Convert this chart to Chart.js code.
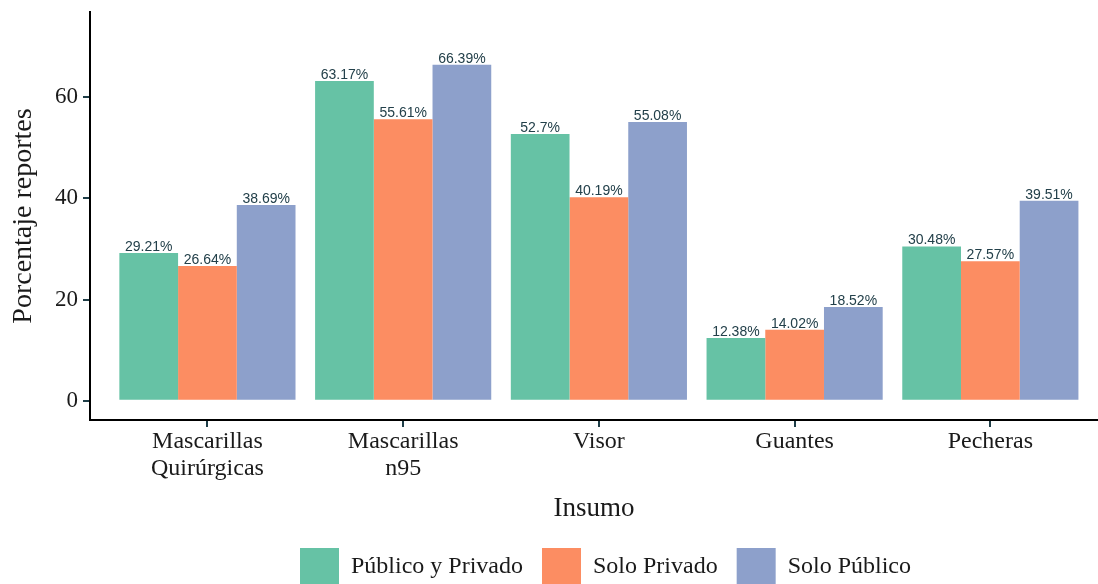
<!DOCTYPE html>
<html><head><meta charset="utf-8">
<script src="https://cdn.jsdelivr.net/npm/chart.js@4.4.1/dist/chart.umd.min.js"></script>
<style>html,body{margin:0;padding:0;background:#fff;overflow:hidden}#wrap{width:1098px;height:584px;position:relative}</style>
</head><body><div id="wrap"><canvas id="c" width="1098" height="584"></canvas></div>
<script>
const categories = [["Mascarillas","Quirúrgicas"],["Mascarillas","n95"],"Visor","Guantes","Pecheras"];
const seriesNames = ["Público y Privado","Solo Privado","Solo Público"];
const publicoYPrivado = [29.21, 63.17, 52.7, 12.38, 30.48];
const soloPrivado = [26.64, 55.61, 40.19, 14.02, 27.57];
const soloPublico = [38.69, 66.39, 55.08, 18.52, 39.51];
const yTicks = [0, 20, 40, 60];
const colors = ["#66C2A5", "#FC8D62", "#8DA0CB"];

const SERIF = "'Liberation Serif', 'Times New Roman', serif";
const TXT = "#1a1a1a";
const TICKC = "#1e3d47";
const LEG_PAD = 19;

const allSeries = [publicoYPrivado, soloPrivado, soloPublico];
const datasets = allSeries.map((vals, k) => ({
  label: seriesNames[k],
  data: vals.map((v, i) => ({x: i + 1, y: v})),
  backgroundColor: colors[k],
  borderWidth: 0,
  categoryPercentage: 0.9,
  barPercentage: 1.0
}));

const labelPlugin = {
  id: 'valLabels',
  afterDatasetsDraw(chart) {
    const ctx = chart.ctx;
    ctx.save();
    ctx.font = "14px 'Liberation Sans', Arial, sans-serif";
    ctx.fillStyle = "#23404a";
    ctx.textAlign = 'center';
    ctx.textBaseline = 'alphabetic';
    chart.data.datasets.forEach((ds, di) => {
      const meta = chart.getDatasetMeta(di);
      meta.data.forEach((el, i) => {
        ctx.fillText(String(ds.data[i].y) + '%', el.x, el.y - 2);
      });
    });
    ctx.restore();
  }
};

const legendPlace = {
  id: 'legendPlace',
  afterLayout(chart) {
    const L = chart.legend;
    if (!L || !L.lineWidths) return;
    const natural = (L.left + LEG_PAD + L.right - L.lineWidths[0]) / 2;
    const dx = 300 - natural;
    L.left += dx; L.right += dx;
    const newTop = 548 - LEG_PAD;
    L.bottom += newTop - L.top;
    L.top = newTop;
  }
};

new Chart(document.getElementById('c'), {
  type: 'bar',
  data: {datasets},
  options: {
    responsive: false,
    animation: false,
    devicePixelRatio: 1,
    layout: {padding: {top: 12, left: 0, right: 0, bottom: 0}},
    plugins: {
      tooltip: {enabled: false},
      legend: {
        position: 'bottom',
        labels: {
          boxWidth: 39, boxHeight: 38, padding: LEG_PAD,
          font: {family: SERIF, size: 24}, color: TXT
        }
      }
    },
    scales: {
      x: {
        type: 'linear', min: 0.4, max: 5.55, offset: false,
        afterBuildTicks: s => { s.ticks = categories.map((c, i) => ({value: i + 1})); },
        ticks: {
          callback: v => categories[v - 1],
          font: {family: SERIF, size: 24, lineHeight: 1.1}, color: TXT,
          padding: 2, maxRotation: 0, autoSkip: false
        },
        grid: {display: true, offset: false, drawOnChartArea: false, drawTicks: true, tickLength: 7, color: TICKC, lineWidth: 2},
        border: {display: true, color: '#000', width: 2},
        title: {display: true, text: 'Insumo', font: {family: SERIF, size: 27}, color: TXT, padding: {top: 0, bottom: -8}},
        afterFit: s => {
          s.height = s.chart.height - 420 - (s.chart.legend ? s.chart.legend.height : 0);
          s.paddingLeft = 0; s.paddingRight = 0;
        }
      },
      y: {
        min: -3.8, max: 76.8,
        afterBuildTicks: s => { s.ticks = yTicks.map(v => ({value: v})); },
        ticks: {font: {family: SERIF, size: 23}, color: TXT, padding: 5},
        grid: {display: true, offset: false, drawOnChartArea: false, drawTicks: true, tickLength: 7, color: TICKC, lineWidth: 2},
        border: {display: true, color: '#000', width: 2},
        title: {display: true, text: 'Porcentaje reportes', font: {family: SERIF, size: 28}, color: TXT, padding: {top: 7, bottom: 0}},
        afterFit: s => { s.width = 90; s.paddingTop = 0; s.paddingBottom = 0; }
      }
    }
  },
  plugins: [labelPlugin, legendPlace]
});
</script>
</body></html>
